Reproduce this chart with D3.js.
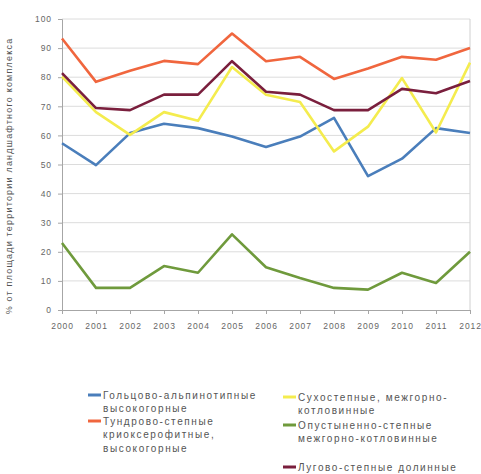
<!DOCTYPE html>
<html>
<head>
<meta charset="utf-8">
<script src="https://cdn.jsdelivr.net/npm/d3@7"></script>
<style>
  body { margin: 0; background: #fff; }
  text { font-family: "Liberation Sans", Arial, sans-serif; }
</style>
</head>
<body>
<svg id="chart" width="481" height="474"></svg>
<script>
// Years on the x axis
const years = [2000, 2001, 2002, 2003, 2004, 2005, 2006, 2007, 2008, 2009, 2010, 2011, 2012];

// Share of landscape complex area, % (one array per complex)
const goltsovo   = [57.3, 49.8, 60.8, 64, 62.5, 59.6, 56, 59.6, 66, 46, 52, 62.5, 60.8];
const tundrovo   = [93.3, 78.4, 82.2, 85.6, 84.5, 95, 85.5, 87, 79.4, 83, 87, 86, 90];
const suhostep   = [80.2, 68, 60.2, 68, 65, 83.5, 74, 71.5, 54.5, 63, 79.7, 61, 85];
const opustyn    = [23, 7.6, 7.6, 15.1, 12.8, 26, 14.7, 11, 7.6, 7, 12.8, 9.3, 20];
const lugovo     = [81.4, 69.4, 68.7, 74, 74, 85.5, 75, 74, 68.7, 68.7, 76, 74.5, 78.7];

const yTicks = [0, 10, 20, 30, 40, 50, 60, 70, 80, 90, 100];
const yTitle = "% от площади территории ландшафтного комплекса";

const series = [
  { name: "Гольцово-альпинотипные высокогорные", values: goltsovo, color: "#4a7ebb",
    lines: ["Гольцово-альпинотипные", "высокогорные"] },
  { name: "Тундрово-степные криоксерофитные, высокогорные", values: tundrovo, color: "#f0663e",
    lines: ["Тундрово-степные", "криоксерофитные,", "высокогорные"] },
  { name: "Сухостепные, межгорно-котловинные", values: suhostep, color: "#f4ec4e",
    lines: ["Сухостепные, межгорно-", "котловинные"] },
  { name: "Опустыненно-степные межгорно-котловинные", values: opustyn, color: "#6f9a3c",
    lines: ["Опустыненно-степные", "межгорно-котловинные"] },
  { name: "Лугово-степные долинные", values: lugovo, color: "#7a1f3d",
    lines: ["Лугово-степные долинные"] }
];

const svg = d3.select("#chart");
const plotLeft = 62, plotRight = 470, plotTop = 19, plotBottom = 310;

const x = d3.scalePoint().domain(years).range([plotLeft, plotRight]);
const y = d3.scaleLinear().domain([0, 100]).range([plotBottom, plotTop]);

// Horizontal grid lines
svg.append("g").selectAll("line").data(yTicks.filter(d => d > 0)).join("line")
  .attr("x1", plotLeft).attr("x2", plotRight)
  .attr("y1", d => y(d)).attr("y2", d => y(d))
  .attr("stroke", "#dcdcdc").attr("stroke-width", 1);

// Right border of plot area
svg.append("line").attr("x1", plotRight).attr("x2", plotRight)
  .attr("y1", plotTop).attr("y2", plotBottom)
  .attr("stroke", "#d0d0d0");

// Y axis
const yAxis = svg.append("g").attr("transform", `translate(${plotLeft},0)`)
  .call(d3.axisLeft(y).tickValues(yTicks).tickSize(4).tickPadding(6));
// X axis
const xAxis = svg.append("g").attr("transform", `translate(0,${plotBottom})`)
  .call(d3.axisBottom(x).tickSize(4).tickPadding(9));

[yAxis, xAxis].forEach(g => {
  g.select(".domain").attr("stroke", "#a6a6a6");
  g.selectAll(".tick line").attr("stroke", "#a6a6a6");
  g.selectAll(".tick text").attr("fill", "#666").style("font-size", "8.5px")
    .style("letter-spacing", "0.9px")
    .style("font-family", "'Liberation Sans', Arial, sans-serif");
});

// Y axis title
svg.append("text")
  .attr("transform", `translate(12,176) rotate(-90)`)
  .attr("text-anchor", "middle")
  .attr("fill", "#555").style("font-size", "9px").style("letter-spacing", "1.2px")
  .text(yTitle);

// Series lines
const line = d3.line().x((d, i) => x(years[i])).y(d => y(d));
svg.append("g").selectAll("path").data(series).join("path")
  .attr("d", d => line(d.values))
  .attr("fill", "none")
  .attr("stroke", d => d.color)
  .attr("stroke-width", 2.6)
  .attr("stroke-linejoin", "round");

// Legend in two columns
const legendPos = [
  { x: 88, y: 395 }, { x: 88, y: 421 },
  { x: 283, y: 397 }, { x: 283, y: 425 }, { x: 283, y: 467 }
];
const lg = svg.append("g");
series.forEach((s, i) => {
  const p = legendPos[i];
  lg.append("line").attr("x1", p.x).attr("x2", p.x + 13)
    .attr("y1", p.y).attr("y2", p.y)
    .attr("stroke", s.color).attr("stroke-width", 3);
  const t = lg.append("text").attr("x", p.x + 15).attr("y", p.y + 3.5)
    .attr("fill", "#555").style("font-size", "10px").style("letter-spacing", "1.6px");
  s.lines.forEach((ln, j) => {
    t.append("tspan").attr("x", p.x + 15).attr("dy", j === 0 ? 0 : 13.5).text(ln);
  });
});
</script>
</body>
</html>
